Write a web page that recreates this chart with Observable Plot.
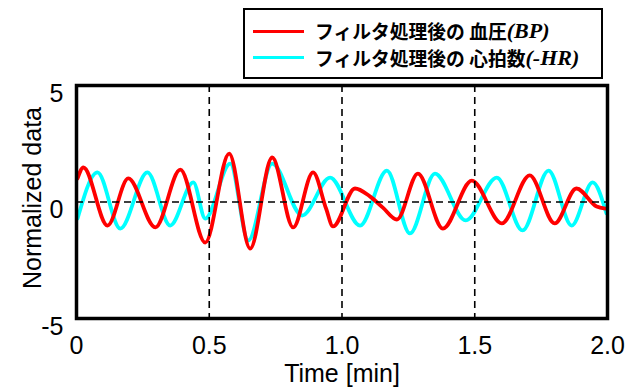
<!DOCTYPE html>
<html>
<head>
<meta charset="utf-8">
<script src="https://cdn.jsdelivr.net/npm/d3@7"></script>
<script src="https://cdn.jsdelivr.net/npm/@observablehq/plot@0.6"></script>
<style>
  html, body { margin: 0; padding: 0; background: #fff; }
  #wrap { position: relative; width: 638px; height: 388px; font-family: "Liberation Sans", Arial, sans-serif; }
  #legend { position: absolute; left: 243px; top: 8px; width: 360px; height: 71px; box-sizing: border-box;
            border: 2px solid #000; background: #fff; }
  .sw { position: absolute; left: 8px; width: 51px; height: 3px; }
  .lt { position: absolute; left: 70px; height: 27px; white-space: nowrap; overflow: visible; }
  .lt span { display: inline-block; height: 27px; line-height: 27px; vertical-align: top; overflow: visible;
        font-family: "Noto Sans CJK JP", sans-serif; font-weight: 700; font-size: 18.8px; color: #000; }
  .lt span.tag { font-family: "Liberation Serif", "Times New Roman", serif; font-weight: 700; font-style: italic; font-size: 22px; }
</style>
</head>
<body>
<div id="wrap"></div>
<script>
// Time [min] and normalized values
const bpTime = [0.004, 0.026, 0.117, 0.195, 0.297, 0.391, 0.485, 0.575, 0.654, 0.737, 0.816, 0.891, 0.940, 0.966, 1.049, 1.105, 1.154, 1.207, 1.286, 1.380, 1.489, 1.602, 1.707, 1.801, 1.883, 1.959, 1.992];
const bpValue = [1.01, 1.48, -1.01, 1.01, -1.09, 1.39, -1.74, 2.08, -2.0, 1.91, -1.09, 1.27, -0.28, -1.05, 0.58, 0.24, -0.24, -0.75, 1.22, -1.14, 0.92, -0.92, 1.14, -0.92, 0.58, -0.19, -0.28];
const hrTime = [0.004, 0.079, 0.165, 0.267, 0.353, 0.440, 0.485, 0.579, 0.647, 0.737, 0.850, 0.955, 1.068, 1.169, 1.256, 1.350, 1.466, 1.583, 1.680, 1.778, 1.865, 1.944, 1.996];
const hrValue = [-0.71, 1.27, -1.14, 1.27, -1.01, 0.84, -0.71, 1.65, -1.65, 1.65, -0.58, 1.05, -1.01, 1.35, -1.35, 1.22, -0.79, 1.05, -1.22, 1.35, -1.01, 0.84, -0.49];
const xTicks = [0, 0.5, 1.0, 1.5, 2.0];
const yTicks = [-5, 0, 5];
const guideX = [0.5, 1.0, 1.5];
const guideY = [0];
const seriesNames = ["フィルタ処理後の 血圧", "フィルタ処理後の 心拍数"];
const seriesTags = ["(BP)", "(-HR)"];
const seriesColors = ["#ff0000", "#00ffff"];

const bp = bpTime.map((t, i) => ({t, v: bpValue[i]}));
const hr = hrTime.map((t, i) => ({t, v: hrValue[i]}));

const chart = Plot.plot({
  width: 638,
  height: 388,
  marginLeft: 76,
  marginRight: 31,
  marginTop: 85,
  marginBottom: 70,
  style: {fontFamily: "'Liberation Sans', Arial, sans-serif", fontSize: "25px", color: "#000", background: "#fff"},
  x: {domain: [0, 2]},
  y: {domain: [-5, 5]},
  marks: [
    Plot.line(hr, {x: "t", y: "v", stroke: seriesColors[1], strokeWidth: 3.8, curve: "monotone-x"}),
    Plot.line(bp, {x: "t", y: "v", stroke: seriesColors[0], strokeWidth: 3.8, curve: "monotone-x"}),
    Plot.ruleX(guideX, {stroke: "#000", strokeWidth: 1.6, strokeDasharray: "7,5"}),
    Plot.ruleY(guideY, {stroke: "#000", strokeWidth: 1.6, strokeDasharray: "7,5"}),
    Plot.frame({stroke: "#000", strokeWidth: 3.5}),
    Plot.axisX({ticks: xTicks, tickSize: 0, tickPadding: 18, label: null,
      tickFormat: d => d === 0 ? "0" : d.toFixed(1), fontSize: 25}),
    Plot.axisY({ticks: yTicks, tickSize: 0, tickPadding: 13, label: null, dy: 8,
      tickFormat: d => String(d), fontSize: 25}),
    Plot.text(["Time [min]"], {frameAnchor: "bottom", lineAnchor: "bottom", dy: 63, fontSize: 25, fill: "#000"}),
    Plot.text(["Normalized data"], {frameAnchor: "left", textAnchor: "middle", lineAnchor: "middle", rotate: -90, dx: -44, dy: -4, fontSize: 25, fill: "#000"})
  ]
});

const wrap = document.getElementById("wrap");
wrap.appendChild(chart);

const legend = document.createElement("div");
legend.id = "legend";
seriesNames.forEach((name, i) => {
  const sw = document.createElement("div");
  sw.className = "sw";
  sw.style.top = (i === 0 ? 19.5 : 45.5) + "px";
  sw.style.background = seriesColors[i];
  legend.appendChild(sw);
  const lt = document.createElement("div");
  lt.className = "lt";
  lt.style.top = (i === 0 ? 7 : 34) + "px";
  const nm = document.createElement("span");
  nm.textContent = name;
  const tag = document.createElement("span");
  tag.className = "tag";
  tag.textContent = seriesTags[i];
  lt.appendChild(nm);
  lt.appendChild(tag);
  legend.appendChild(lt);
});
wrap.appendChild(legend);
</script>
</body>
</html>
